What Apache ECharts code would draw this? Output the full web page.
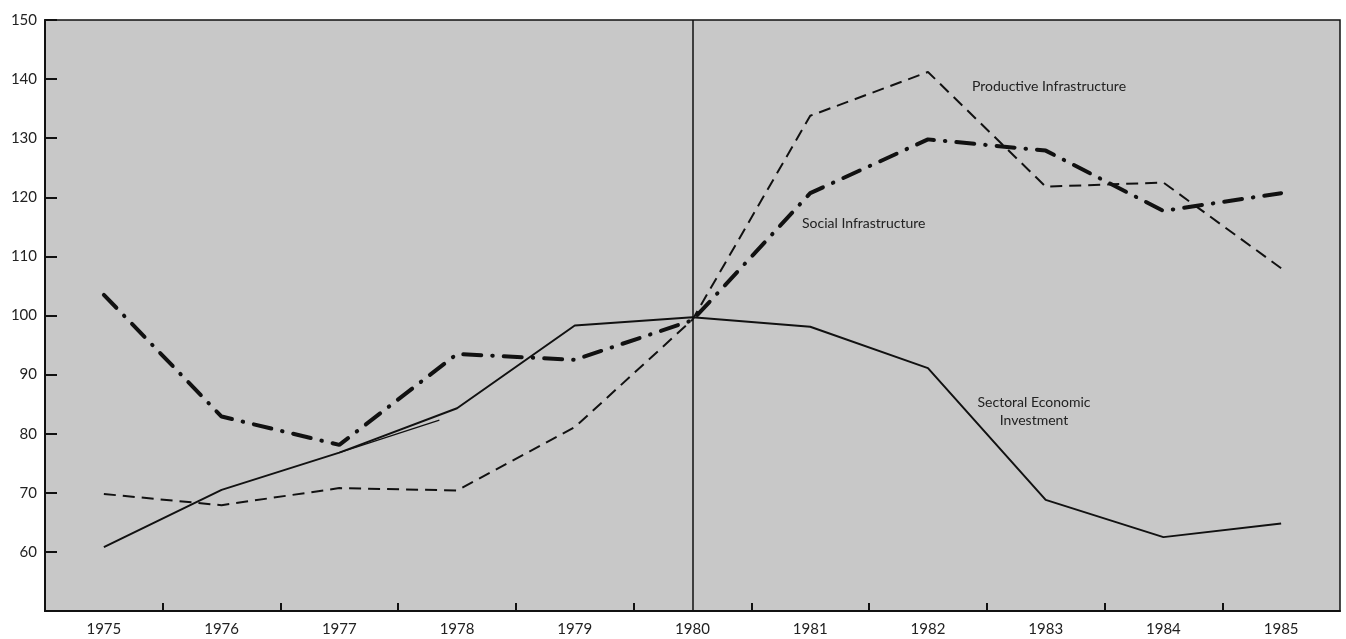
<!DOCTYPE html>
<html>
<head>
<meta charset="utf-8">
<title>Investment indices 1975-1985</title>
<script src="https://cdn.jsdelivr.net/npm/echarts@6/dist/echarts.min.js"></script>
<style>
html, body { margin: 0; padding: 0; background: #ffffff; }
#chart { width: 1346px; height: 639px; }
</style>
</head>
<body>
<div id="chart"></div>
<script>
var years = [1975, 1976, 1977, 1978, 1979, 1980, 1981, 1982, 1983, 1984, 1985];
var halfYears = [1975.5, 1976.5, 1977.5, 1978.5, 1979.5, 1980.5, 1981.5, 1982.5, 1983.5, 1984.5];
var yTicks = [60, 70, 80, 90, 100, 110, 120, 130, 140, 150];

var sectoral = [60.8, 70.5, 76.8, 84.3, 98.3, 99.7, 98.1, 91.1, 68.8, 62.5, 64.8];
var productive = [69.8, 67.9, 70.8, 70.4, 81.1, 99.3, 133.8, 141.2, 121.8, 122.5, 108];
var social = [103.5, 82.9, 78.1, 93.5, 92.5, 99.2, 120.7, 129.8, 127.9, 117.7, 120.7];
// short stray stroke next to the solid line, 1977 -> just before 1978
var strayX = [1977, 1977.85];
var strayY = [76.8, 82.3];

function pairs(xs, ys) {
    var out = [];
    for (var i = 0; i < xs.length; i++) {
        out.push([xs[i], ys[i]]);
    }
    return out;
}

var font = 'Lato, "Open Sans", sans-serif';
var myChart = echarts.init(document.getElementById('chart'));

var option = {
    backgroundColor: '#ffffff',
    animation: false,
    grid: {
        left: 45,
        right: 6,
        top: 20,
        bottom: 28,
        show: true,
        backgroundColor: '#c8c8c8',
        borderColor: '#111',
        borderWidth: 1.5
    },
    xAxis: {
        type: 'value',
        min: 1974.5,
        max: 1985.5,
        interval: 0.5,
        axisLine: { show: true, onZero: false, lineStyle: { color: '#111', width: 2 } },
        axisTick: {
            show: true,
            inside: true,
            length: 8,
            customValues: halfYears,
            lineStyle: { color: '#111', width: 2 }
        },
        axisLabel: {
            customValues: years,
            color: '#222',
            fontFamily: font,
            fontSize: 15,
            margin: 11,
            formatter: function (v) { return String(v); }
        },
        splitLine: { show: false }
    },
    yAxis: {
        type: 'value',
        min: 50,
        max: 150,
        interval: 10,
        axisLine: { show: true, lineStyle: { color: '#111', width: 2 } },
        axisTick: {
            show: true,
            inside: true,
            length: 12,
            customValues: yTicks,
            lineStyle: { color: '#111', width: 2 }
        },
        axisLabel: {
            customValues: yTicks,
            color: '#222',
            fontFamily: font,
            fontSize: 15,
            margin: 8
        },
        splitLine: { show: false }
    },
    series: [
        {
            name: 'Sectoral Economic Investment',
            type: 'line',
            data: pairs(years, sectoral),
            symbol: 'none',
            lineStyle: { color: '#111', width: 2, type: 'solid' },
            markLine: {
                silent: true,
                symbol: 'none',
                label: { show: false },
                lineStyle: { color: '#111', width: 1.5, type: 'solid' },
                data: [{ xAxis: 1980 }]
            }
        },
        {
            name: 'stray',
            type: 'line',
            data: pairs(strayX, strayY),
            symbol: 'none',
            lineStyle: { color: '#111', width: 1.2, type: 'solid' }
        },
        {
            name: 'Productive Infrastructure',
            type: 'line',
            data: pairs(years, productive),
            symbol: 'none',
            lineStyle: { color: '#111', width: 2, type: [12, 7] }
        },
        {
            name: 'Social Infrastructure',
            type: 'line',
            data: pairs(years, social),
            symbol: 'none',
            lineStyle: { color: '#111', width: 4, type: [18, 11, 0.5, 11], cap: 'round' }
        }
    ],
    graphic: [
        {
            type: 'text', x: 972, y: 79,
            style: { text: 'Productive Infrastructure', fill: '#222', font: '14px ' + font }
        },
        {
            type: 'text', x: 802, y: 216,
            style: { text: 'Social Infrastructure', fill: '#222', font: '14px ' + font }
        },
        {
            type: 'text', x: 1034, y: 393,
            style: {
                text: 'Sectoral Economic\nInvestment',
                fill: '#222',
                font: '14px ' + font,
                align: 'center',
                verticalAlign: 'top',
                lineHeight: 18
            }
        }
    ]
};

if (option && typeof option === "object") {
    myChart.setOption(option, true);
}
</script>
</body>
</html>
